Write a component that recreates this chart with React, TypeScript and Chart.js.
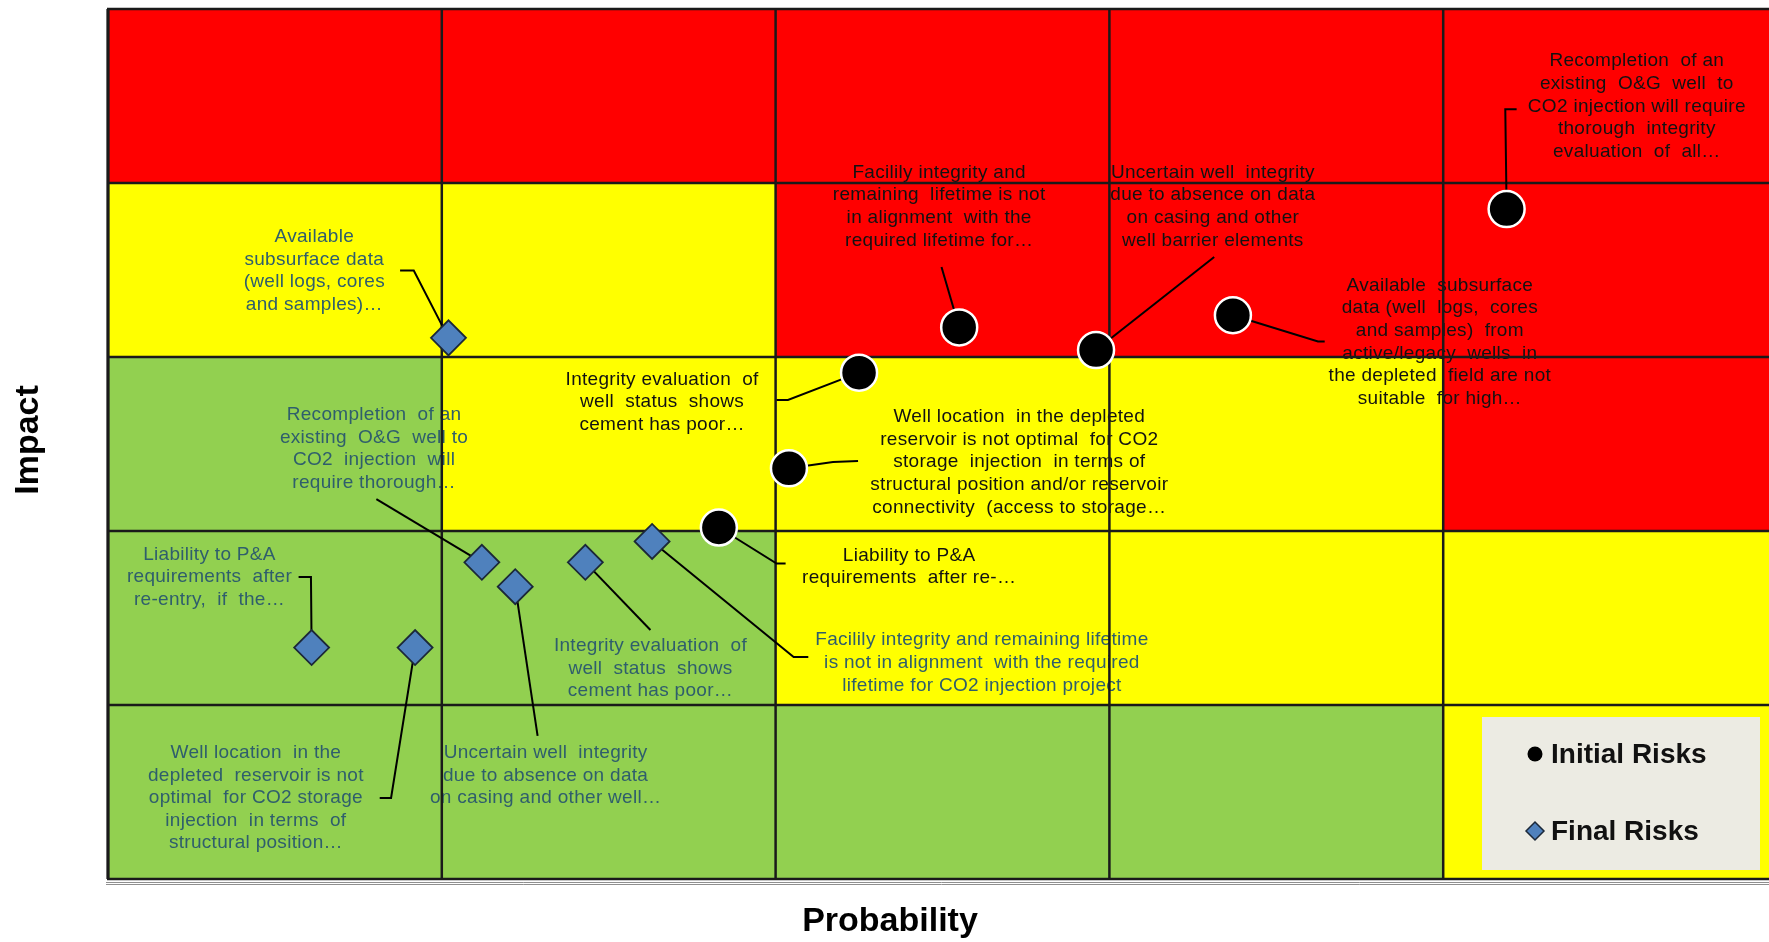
import React, { useEffect, useRef } from "react";
import { Chart, registerables } from "chart.js";

Chart.register(...registerables);

// ---- Matrix definition (rows: impact 1 -> 5, columns: probability 1 -> 5)
const probabilityLevels = [1, 2, 3, 4, 5];
const impactLevels = [1, 2, 3, 4, 5];
const impact1Row = ["G", "G", "G", "G", "Y"];
const impact2Row = ["G", "G", "Y", "Y", "Y"];
const impact3Row = ["G", "Y", "Y", "Y", "R"];
const impact4Row = ["Y", "Y", "R", "R", "R"];
const impact5Row = ["R", "R", "R", "R", "R"];
const riskRows = [impact1Row, impact2Row, impact3Row, impact4Row, impact5Row];

// ---- Initial risks (black circles)
const initialProbability = [4.19, 2.55, 2.96, 3.37, 2.25, 2.04, 1.83];
const initialImpact = [3.85, 3.17, 3.04, 3.24, 2.91, 2.36, 2.02];
const initialTexts = [
  ["Recompletion  of an", "existing  O&G  well  to", "CO2 injection will require", "thorough  integrity", "evaluation  of  all\u2026"],
  ["Facilily integrity and", "remaining  lifetime is not", "in alignment  with the", "required lifetime for\u2026"],
  ["Uncertain well  integrity", "due to absence on data", "on casing and other", "well barrier elements"],
  ["Available  subsurface", "data (well  logs,  cores", "and samples)  from", "active/legacy  wells  in", "the depleted  field are not", "suitable  for high\u2026"],
  ["Integrity evaluation  of", "well  status  shows", "cement has poor\u2026"],
  ["Well location  in the depleted", "reservoir is not optimal  for CO2", "storage  injection  in terms of", "structural position and/or reservoir", "connectivity  (access to storage\u2026"],
  ["Liability to P&A", "requirements  after re-\u2026"],
];

// ---- Final risks (blue diamonds)
const finalProbability = [1.02, 1.12, 1.22, 1.43, 1.63, 0.61, 0.92];
const finalImpact = [3.11, 1.82, 1.68, 1.82, 1.94, 1.33, 1.33];
const finalTexts = [
  ["Available", "subsurface data", "(well logs, cores", "and samples)\u2026"],
  ["Recompletion  of an", "existing  O&G  well to", "CO2  injection  will", "require thorough\u2026"],
  ["Uncertain well  integrity", "due to absence on data", "on casing and other well\u2026"],
  ["Integrity evaluation  of", "well  status  shows", "cement has poor\u2026"],
  ["Facilily integrity and remaining lifetime", "is not in alignment  with the required", "lifetime for CO2 injection project"],
  ["Liability to P&A", "requirements  after", "re-entry,  if  the\u2026"],
  ["Well location  in the", "depleted  reservoir is not", "optimal  for CO2 storage", "injection  in terms  of", "structural position\u2026"],
];

// ---- Annotation layout (label centre x / first-line y, leader waypoints) in data units
const initialLabelAnchors = [
  [4.58, 4.70], [2.49, 4.06], [3.31, 4.06], [3.99, 3.41], [1.66, 2.87], [2.73, 2.655], [2.40, 1.86],
];
const initialLeaders = [
  [[4.186, 4.424], [4.22, 4.424]],
  [[2.497, 3.517]],
  [[3.314, 3.575]],
  [[3.625, 3.089], [3.645, 3.089]],
  [[2.037, 2.753], [2.003, 2.753]],
  [[2.172, 2.396], [2.247, 2.403]],
  [[2.003, 1.813], [2.03, 1.813]],
];
const finalLabelAnchors = [
  [0.618, 3.69], [0.797, 2.668], [1.311, 0.725], [1.625, 1.341], [2.618, 1.373], [0.304, 1.865], [0.443, 0.725],
];
const finalLeaders = [
  [[0.916, 3.497], [0.875, 3.497]],
  [[0.804, 2.183]],
  [[1.287, 0.823]],
  [[1.625, 1.431]],
  [[2.054, 1.276], [2.098, 1.276]],
  [[0.608, 1.736], [0.571, 1.736]],
  [[0.848, 0.466], [0.814, 0.466]],
];

const CELL_COLORS: Record<string, string> = { R: "#FF0000", Y: "#FFFF00", G: "#92D050" };
const FONT = '"Liberation Sans", Arial, sans-serif';
const CANVAS_W = 1790;
const CANVAS_H = 942;

const matrixPlugin = {
  id: "riskMatrix",
  beforeDatasetsDraw(chart: any) {
    const { ctx, chartArea } = chart;
    const xs = chart.scales.x;
    const ys = chart.scales.y;
    const X = (v: number) => xs.getPixelForValue(v);
    const Y = (v: number) => ys.getPixelForValue(v);
    ctx.save();
    // cells
    riskRows.forEach((row, r) => {
      row.forEach((c, col) => {
        const l = X(col), rt = X(col + 1), t = Y(r + 1), b = Y(r);
        ctx.fillStyle = CELL_COLORS[c];
        ctx.fillRect(l, t, rt - l, b - t);
      });
    });
    // labels
    ctx.font = `19px ${FONT}`;
    try { (ctx as any).letterSpacing = "0.3px"; } catch (e) {}
    ctx.textAlign = "center";
    ctx.textBaseline = "middle";
    const drawLabels = (texts: string[][], anchors: number[][], color: string) => {
      ctx.fillStyle = color;
      texts.forEach((lines, i) => {
        const cx = X(anchors[i][0]);
        const cy = Y(anchors[i][1]);
        lines.forEach((line, j) => ctx.fillText(line, cx, cy + j * 22.6));
      });
    };
    drawLabels(initialTexts, initialLabelAnchors, "#121212");
    drawLabels(finalTexts, finalLabelAnchors, "#2F5E6C");
    try { (ctx as any).letterSpacing = "0px"; } catch (e) {}
    // grid lines
    ctx.strokeStyle = "#1a1a1a";
    ctx.lineWidth = 2.5;
    probabilityLevels.forEach((_, i) => {
      const x = X(i);
      ctx.beginPath();
      ctx.moveTo(x, chartArea.top);
      ctx.lineTo(x, chartArea.bottom);
      ctx.stroke();
    });
    [0, ...impactLevels].forEach((v) => {
      const y = Y(v);
      ctx.beginPath();
      ctx.moveTo(chartArea.left - 1, y);
      ctx.lineTo(chartArea.right, y);
      ctx.stroke();
    });
    ctx.lineWidth = 3;
    ctx.beginPath();
    ctx.moveTo(chartArea.left, chartArea.top);
    ctx.lineTo(chartArea.left, chartArea.bottom);
    ctx.stroke();
    // double grey base line
    ctx.strokeStyle = "#8f8f8f";
    ctx.lineWidth = 1;
    [3.5, 5.5].forEach((d) => {
      ctx.beginPath();
      ctx.moveTo(chartArea.left - 2, chartArea.bottom + d);
      ctx.lineTo(chartArea.right, chartArea.bottom + d);
      ctx.stroke();
    });
    // leader lines
    ctx.strokeStyle = "#000";
    ctx.lineWidth = 2;
    const drawLeaders = (px: number[], py: number[], leaders: number[][][]) => {
      leaders.forEach((pts, i) => {
        ctx.beginPath();
        ctx.moveTo(X(px[i]), Y(py[i]));
        pts.forEach((p) => ctx.lineTo(X(p[0]), Y(p[1])));
        ctx.stroke();
      });
    };
    drawLeaders(initialProbability, initialImpact, initialLeaders);
    drawLeaders(finalProbability, finalImpact, finalLeaders);
    ctx.restore();
  },
  afterDraw(chart: any) {
    const { ctx, chartArea } = chart;
    ctx.save();
    // legend box
    const bx = 1482, by = 717, bw = 278, bh = 153;
    ctx.fillStyle = "#ECEBE3";
    ctx.fillRect(bx, by, bw, bh);
    ctx.font = `bold 28px ${FONT}`;
    ctx.textAlign = "left";
    ctx.textBaseline = "middle";
    chart.data.datasets.forEach((ds: any, i: number) => {
      const cy = i === 0 ? 754 : 831;
      const mx = 1535;
      ctx.beginPath();
      if (ds.pointStyle === "circle") {
        ctx.arc(mx, cy, 7.5, 0, Math.PI * 2);
        ctx.fillStyle = ds.backgroundColor;
        ctx.fill();
      } else {
        const r = 9;
        ctx.moveTo(mx - r, cy);
        ctx.lineTo(mx, cy - r);
        ctx.lineTo(mx + r, cy);
        ctx.lineTo(mx, cy + r);
        ctx.closePath();
        ctx.fillStyle = ds.backgroundColor;
        ctx.fill();
        ctx.strokeStyle = ds.borderColor;
        ctx.lineWidth = 1.5;
        ctx.stroke();
      }
      ctx.fillStyle = "#111";
      ctx.fillText(ds.label, 1551, cy + 1);
    });
    // axis titles
    ctx.fillStyle = "#000";
    ctx.font = `bold 34px ${FONT}`;
    ctx.textAlign = "center";
    ctx.textBaseline = "middle";
    ctx.fillText("Probability", 890, 922);
    ctx.translate(29, (chartArea.top + chartArea.bottom) / 2 - 4);
    ctx.rotate(-Math.PI / 2);
    ctx.fillText("Impact", 0, 0);
    ctx.restore();
  },
};

export default function App() {
  const canvasRef = useRef<HTMLCanvasElement | null>(null);
  useEffect(() => {
    const canvas = canvasRef.current;
    if (!canvas) return;
    const chart = new Chart(canvas, {
      type: "scatter",
      data: {
        datasets: [
          {
            label: "Initial Risks",
            data: initialProbability.map((x, i) => ({ x, y: initialImpact[i] })),
            pointStyle: "circle",
            pointRadius: 18,
            backgroundColor: "#000000",
            borderColor: "#FFFFFF",
            borderWidth: 2.5,
          },
          {
            label: "Final Risks",
            data: finalProbability.map((x, i) => ({ x, y: finalImpact[i] })),
            pointStyle: "rectRot",
            pointRadius: 17.5,
            backgroundColor: "#4F81BD",
            borderColor: "#1B2838",
            borderWidth: 1.8,
          },
        ],
      } as any,
      options: {
        responsive: false,
        animation: false,
        events: [],
        layout: {
          autoPadding: false,
          padding: { left: 108, top: 9, right: CANVAS_W - 1777, bottom: CANVAS_H - 879 },
        },
        scales: {
          x: { type: "linear", min: 0, max: 5, display: false },
          y: { type: "linear", min: 0, max: 5, display: false },
        },
        plugins: { legend: { display: false }, tooltip: { enabled: false } },
      } as any,
      plugins: [matrixPlugin],
    });
    return () => chart.destroy();
  }, []);

  return (
    <div style={{ position: "fixed", left: 0, top: 0, width: 1769, height: 942, overflow: "hidden", background: "#fff" }}>
      <canvas ref={canvasRef} width={CANVAS_W} height={CANVAS_H} style={{ width: CANVAS_W, height: CANVAS_H, display: "block" }} />
    </div>
  );
}
